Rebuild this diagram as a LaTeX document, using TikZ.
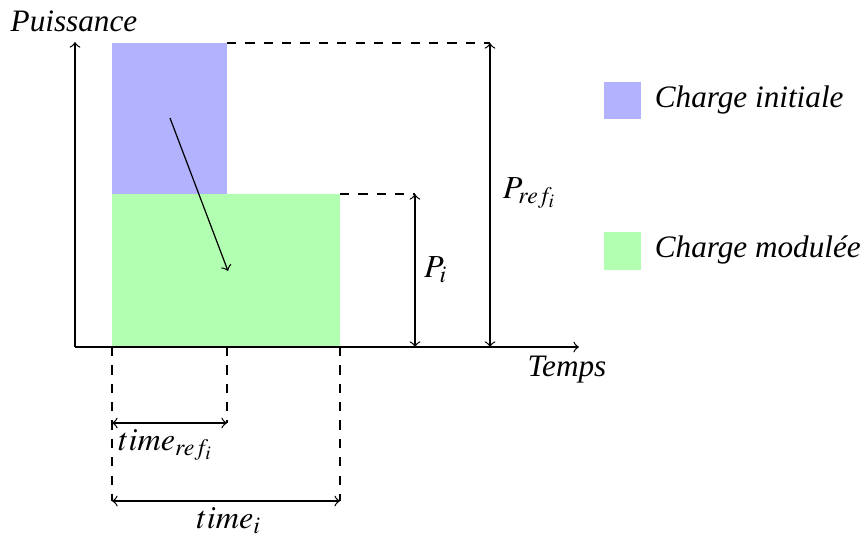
\documentclass[tikz,border=0pt]{standalone}
\usepackage{mathptmx}
\usepackage{fontspec}
\setmainfont{Liberation Serif}
\usepackage{tikz}
\colorlet{initcol}{blue!30}
\colorlet{modcol}{green!30}
\tikzset{
    lbl/.style={font=\fontsize{10.2}{12.2}\selectfont\itshape},
    mlbl/.style={font=\fontsize{10.5}{12.6}\selectfont}
}

\begin{document}
\begin{tikzpicture}[x=0.3268pt,y=-0.3268pt]
    \useasboundingbox (0,0) rectangle (865,536);
    % Key points
    \coordinate (O) at (75,347);
    \coordinate (ytop) at (75,42);
    \coordinate (xend) at (579,347);

    % Initial and modulated loads
    \fill[initcol] (112,43) rectangle (227,194);
    \fill[modcol] (112,194) rectangle (340,347);

    % Axes
    \draw[->] (O) -- (ytop);
    \draw[->] (O) -- (xend);
    \node[lbl] (puiss) at (74,21) {Puissance};
    \node[lbl] (temps) at (567,370) {Temps};

    % Shift of the load
    \coordinate (sa) at (170,118);
    \coordinate (sb) at (228,271);
    \draw[->] (sa) -- (sb);

    % Power levels
    \coordinate (pa) at (227,43);
    \coordinate (pb) at (490,43);
    \coordinate (pc) at (340,194);
    \coordinate (pd) at (415,194);
    \draw[dashed] (pa) -- (pb);
    \draw[dashed] (pc) -- (pd);
    \draw[<->] (pb) -- (490,347) coordinate (pe);
    \draw[<->] (pd) -- (415,347) coordinate (pf);
    \node[mlbl] (pref) at (530,193) {$P_{ref_i}$};
    \node[mlbl] (pi) at (436,270) {$P_i$};

    % Durations
    \coordinate (ta) at (112,347);
    \coordinate (tb) at (227,347);
    \coordinate (tc) at (340,347);
    \draw[dashed] (ta) -- (112,501) coordinate (td);
    \draw[dashed] (tb) -- (227,423) coordinate (te);
    \draw[dashed] (tc) -- (340,501) coordinate (tf);
    \draw[<->] (112,423) coordinate (tg) -- (te);
    \draw[<->] (td) -- (tf);
    \node[mlbl] (tref) at (166,445) {$time_{ref_i}$};
    \node[mlbl] (ti) at (229,521) {$time_i$};

    % Legend
    \fill[initcol] (604,82) rectangle (641,119);
    \node[lbl,anchor=west] (leginit) at (644,100) {Charge initiale};
    \fill[modcol] (604,232) rectangle (641,270);
    \node[lbl,anchor=west] (legmod) at (644,250) {Charge modulée};
\end{tikzpicture}
\end{document}
